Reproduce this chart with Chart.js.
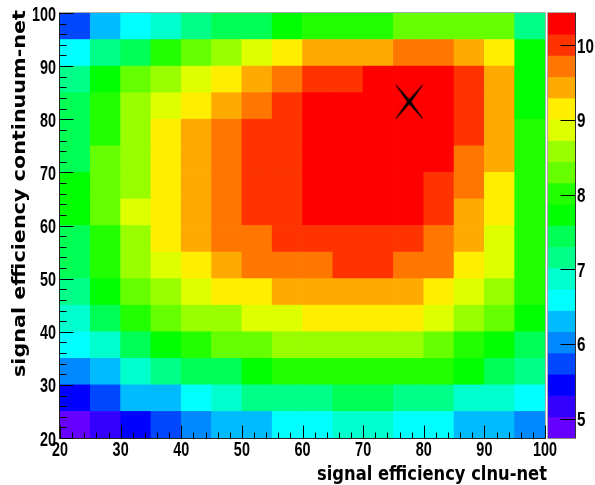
<!DOCTYPE html>
<html><head><meta charset="utf-8">
<style>html,body{margin:0;padding:0;background:#fff}
#wrap{position:relative;width:595px;height:485px;overflow:hidden}
canvas{position:absolute;top:0}</style>
<script src="https://cdn.jsdelivr.net/npm/chart.js@4"></script>
</head><body><div id="wrap"><canvas id="map" width="595" height="485" style="left:0"></canvas><canvas id="bar" width="48" height="485" style="left:547px"></canvas></div>
<script>
const xEdges = [20,25,30,35,40,45,50,55,60,65,70,75,80,85,90,95];
const yEdges = [95,90,85,80,75,70,65,60,55,50,45,40,35,30,25,20];
const binWidth = 5;
const xMajorTicks = [20,30,40,50,60,70,80,90,100];
const scaleMin = 4.74, scaleMax = 10.43;
const palette = ['#6600ff','#3300ff','#0000ff','#0048ff','#0088ff','#00bbff','#00ffff','#00ffcc','#00ff88','#00ff55',
                 '#00ff00','#22ff00','#66ff00','#99ff00','#ddff00','#ffee00','#ffaa00','#ff7700','#ff3300','#ff0000'];
const row95 = [5.73,6.30,6.59,6.87,7.16,7.44,7.44,7.73,8.01,8.01,8.01,8.29,8.29,8.29,8.29,7.16];
const row90 = [6.59,7.16,7.44,8.01,8.29,8.58,8.86,9.15,9.43,9.43,9.43,9.72,9.72,9.43,9.15,7.73];
const row85 = [7.16,7.73,8.29,8.58,8.86,9.15,9.43,9.72,10.0,10.0,10.29,10.29,10.29,10.0,9.43,7.73];
const row80 = [7.44,8.01,8.58,8.86,9.15,9.43,9.72,10.0,10.29,10.29,10.29,10.29,10.29,10.0,9.43,7.73];
const row75 = [7.44,8.01,8.58,9.15,9.43,9.72,10.0,10.0,10.29,10.29,10.29,10.29,10.29,10.0,9.43,8.01];
const row70 = [7.44,8.29,8.58,9.15,9.43,9.72,10.0,10.0,10.29,10.29,10.29,10.29,10.29,9.72,9.43,8.01];
const row65 = [7.73,8.29,8.58,9.15,9.43,9.72,10.0,10.0,10.29,10.29,10.29,10.29,10.0,9.72,9.15,8.01];
const row60 = [7.73,8.29,8.86,9.15,9.43,9.72,10.0,10.0,10.29,10.29,10.29,10.29,10.0,9.43,9.15,8.01];
const row55 = [7.44,8.01,8.58,9.15,9.43,9.72,9.72,10.0,10.0,10.0,10.0,10.0,9.72,9.43,8.86,8.01];
const row50 = [7.44,8.01,8.58,8.86,9.15,9.43,9.72,9.72,9.72,10.0,10.0,9.72,9.72,9.15,8.86,8.01];
const row45 = [7.16,7.73,8.29,8.58,8.86,9.15,9.15,9.43,9.43,9.43,9.43,9.43,9.15,8.86,8.58,8.01];
const row40 = [6.87,7.44,8.01,8.29,8.58,8.58,8.86,8.86,9.15,9.15,9.15,9.15,8.86,8.58,8.29,7.73];
const row35 = [6.59,6.87,7.44,7.73,8.01,8.29,8.29,8.58,8.58,8.58,8.58,8.58,8.29,8.01,7.73,7.44];
const row30 = [6.02,6.30,6.87,7.16,7.44,7.44,7.73,8.01,8.01,8.01,8.01,8.01,8.01,7.73,7.44,7.16];
const row25 = [5.45,5.73,6.30,6.30,6.59,6.87,7.16,7.16,7.16,7.44,7.44,7.16,7.16,6.87,6.87,6.59];
const row20 = [4.88,5.16,5.45,5.73,6.02,6.30,6.30,6.59,6.59,6.87,6.87,6.59,6.59,6.30,6.30,6.02];
const rows = [row95,row90,row85,row80,row75,row70,row65,row60,row55,row50,row45,row40,row35,row30,row25,row20];
const markerPoint = {x:77.6, y:83.3};
const xTitle = 'signal efficiency clnu-net';
const yTitle = 'signal efficiency continuum-net';

const tickFont = 'bold 20px "Liberation Sans"';
const xTitleFont = 'bold 20px "DejaVu Sans"';
const yTitleFont = 'bold 17px "DejaVu Sans"';
const binSize = (scaleMax-scaleMin)/palette.length;
const colorOf = v => palette[Math.max(0,Math.min(palette.length-1,Math.floor((v-scaleMin)/binSize)))];

const cells=[], cellColors=[];
rows.forEach((r,j)=>r.forEach((v,i)=>{
  cells.push({x:xEdges[i]+binWidth/2, y:[yEdges[j],yEdges[j]+binWidth]});
  cellColors.push(colorOf(v));
}));

// tapered X marker
const mk=document.createElement('canvas'); mk.width=29; mk.height=36;
(function(){const g=mk.getContext('2d'),w=27,h=34,ox=1,oy=1,cx=ox+w/2,cy=oy+h/2,t=1.8,e=.35;g.fillStyle='#000';
 [[ox,oy,ox+w,oy+h],[ox+w,oy,ox,oy+h]].forEach(([a,b,c,d])=>{
  const dx=c-a,dy=d-b,l=Math.hypot(dx,dy),ux=-dy/l,uy=dx/l;
  g.beginPath();g.moveTo(a+ux*e,b+uy*e);g.lineTo(cx+ux*t,cy+uy*t);g.lineTo(c+ux*e,d+uy*e);
  g.lineTo(c-ux*e,d-uy*e);g.lineTo(cx-ux*t,cy-uy*t);g.lineTo(a-ux*e,b-uy*e);g.closePath();g.fill();});
})();

function line(c,a,b,d,e,col){c.strokeStyle=col;c.lineWidth=1;c.beginPath();c.moveTo(a,b);c.lineTo(d,e);c.stroke();}
// squeezed text: the reference's lettering is stretched, so it needs a horizontal scale
function squeezed(c,str,font,x,y,sx,align,base){
  c.save();c.font=font;c.fillStyle='#000';c.textAlign=align;c.textBaseline=base;
  c.translate(x,y);c.scale(sx,1);c.fillText(str,0,0);c.restore();
}
function fitted(c,str,font,x,y,len,angle){
  c.save();c.font=font;c.fillStyle='#000';c.textAlign='right';c.textBaseline='alphabetic';
  c.translate(x,y);c.rotate(angle);c.scale(len/c.measureText(str).width,1);c.fillText(str,0,0);c.restore();
}
const frameTicks={id:'frameTicks',afterDatasetsDraw(ch){
  const c=ch.ctx,a=ch.chartArea,X=ch.scales.x,Y=ch.scales.y;c.save();
  const L=Math.round(a.left)-.5,B=Math.round(a.bottom)+.5,T=Math.round(a.top)-.5,R=Math.round(a.right)+.5;
  line(c,L,T,R,T,'#aaa');line(c,R,T,R,B,'#aaa');
  line(c,L,T,L,B,'#222');line(c,L,B,R,B,'#222');
  for(let v=20;v<=100;v+=2){
    const maj=v%10===0,px=Math.round(X.getPixelForValue(v))+.5,py=Math.round(Y.getPixelForValue(v))+.5;
    line(c,px,B,px,B-(maj?13:6),'#000');
    line(c,L,py,L+(maj?14:7),py,'#000');
  }
  X.ticks.forEach(t=>squeezed(c,String(t.value),tickFont,X.getPixelForValue(t.value),450.5,.72,'center','middle'));
  Y.ticks.forEach(t=>squeezed(c,String(t.value),tickFont,56,Y.getPixelForValue(t.value)+2,.72,'right','middle'));
  fitted(c,xTitle,xTitleFont,547,479.5,230,0);
  fitted(c,yTitle,yTitleFont,24.5,10,367,-Math.PI/2);
  c.restore();
}};

new Chart(document.getElementById('map'),{
  type:'bar',
  data:{datasets:[
    {type:'scatter',data:[markerPoint],pointStyle:mk,pointRadius:17,order:0,showLine:false},
    {data:cells,backgroundColor:cellColors,borderWidth:0,categoryPercentage:1,barPercentage:1,order:1}
  ]},
  options:{responsive:false,animation:false,devicePixelRatio:1,
    layout:{autoPadding:false,padding:{top:13,right:50,left:0,bottom:0}},
    plugins:{legend:{display:false},tooltip:{enabled:false}},
    scales:{
      x:{type:'linear',min:20,max:100,offset:false,grid:{display:false},border:{display:false},
         afterFit(s){s.height=47;},
         afterBuildTicks(s){s.ticks=xMajorTicks.map(value=>({value}));},
         ticks:{display:false}},
      y:{type:'linear',min:20,max:100,grid:{display:false},border:{display:false},
         afterFit(s){s.width=60;},
         afterBuildTicks(s){s.ticks=xMajorTicks.map(value=>({value}));},
         ticks:{display:false}}
    }},
  plugins:[frameTicks]
});

const binFloats=palette.map((_,i)=>({x:0.5,y:[scaleMin+i*binSize,scaleMin+(i+1)*binSize]}));
const barFrame={id:'barFrame',afterDatasetsDraw(ch){
  const c=ch.ctx,a=ch.chartArea,Y=ch.scales.y;c.save();
  const R=Math.round(a.right)+.5,T=Math.round(a.top)-.5,B=Math.round(a.bottom)+.5,L=Math.round(a.left)+.5;
  line(c,L,T,R,T,'#aaa');line(c,L,T,L,B,'#aaa');line(c,L,B,R,B,'#888');
  line(c,R,T,R,B,'#333');
  Y.ticks.forEach(t=>{const v=Y.getPixelForValue(t.value),p=Math.round(v)+.5;line(c,R,p,R-15,p,'#000');
    squeezed(c,String(t.value),tickFont,a.right+2,v+2,.76,'left','middle');});
  c.restore();
}};
new Chart(document.getElementById('bar'),{
  type:'bar',
  data:{datasets:[{data:binFloats,backgroundColor:palette,borderWidth:0,categoryPercentage:1,barPercentage:1}]},
  options:{responsive:false,animation:false,devicePixelRatio:1,
    layout:{autoPadding:false,padding:{top:13,bottom:47,left:0,right:0}},
    plugins:{legend:{display:false},tooltip:{enabled:false}},
    scales:{
      x:{type:'linear',min:0,max:1,offset:false,display:false},
      y:{type:'linear',position:'right',min:scaleMin,max:scaleMax,grid:{display:false},border:{display:false},
         afterFit(s){s.width=20;},
         ticks:{stepSize:1,includeBounds:false,display:false}}
    }},
  plugins:[barFrame]
});
</script></body></html>
